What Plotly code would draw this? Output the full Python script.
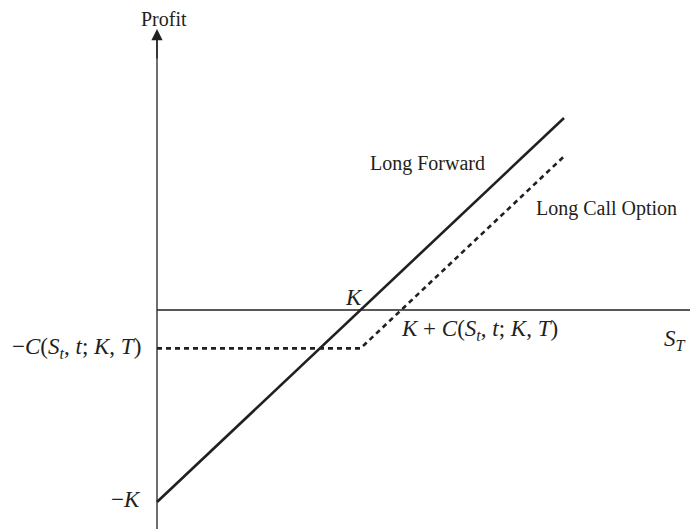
import plotly.graph_objects as go

# ---- data (profit diagram, K = 100, call premium C = 20) ----
forward_s = [0, 200]
forward_profit = [-100, 100]
call_s = [0, 100, 200]
call_profit = [-20, -20, 80]
strike = 100
premium = 20

W, H = 691, 529
# pixel <-> data mapping used only to place the axis window
X0_PX, X_SCALE = 157, 2.035
Y0_PX, Y_SCALE = 310, 1.92
x_range = [(0 - X0_PX) / X_SCALE, (W - X0_PX) / X_SCALE]
y_range = [(Y0_PX - H) / Y_SCALE, (Y0_PX - 0) / Y_SCALE]

def py(p):
    return (Y0_PX - p) / Y_SCALE

def px_(p):
    return (p - X0_PX) / X_SCALE

INK = "#231f20"
FAMILY = "Liberation Serif, Times New Roman, serif"
FONT = dict(family=FAMILY, size=20, color=INK)
MATH = dict(family=FAMILY, size=23, color=INK)

fig = go.Figure()
fig.add_trace(go.Scatter(x=forward_s, y=forward_profit, mode="lines",
                         line=dict(color=INK, width=2.6), hoverinfo="skip"))
fig.add_trace(go.Scatter(x=call_s, y=call_profit, mode="lines",
                         line=dict(color=INK, width=2.6, dash="5px,4px"), hoverinfo="skip"))

shapes = [
    # x axis
    dict(type="line", xref="x", yref="y", x0=0, x1=px_(690), y0=0, y1=0,
         line=dict(color=INK, width=1.3)),
    # y axis shaft
    dict(type="line", xref="x", yref="y", x0=0, x1=0, y0=py(H), y1=py(40),
         line=dict(color=INK, width=1.3)),
]

annotations = [
    # arrow head of y axis
    dict(x=0, y=py(29), ax=0, ay=py(60), xref="x", yref="y", axref="x", ayref="y",
         showarrow=True, arrowhead=2, arrowsize=1.6, arrowwidth=1.4, arrowcolor=INK, text=""),
    dict(x=px_(164), y=py(19), xref="x", yref="y", text="Profit", showarrow=False, font=FONT),
    dict(x=px_(487), y=py(163), xref="x", yref="y", text="Long Forward", showarrow=False,
         xanchor="right", font=FONT),
    dict(x=px_(534), y=py(208), xref="x", yref="y", text="Long Call Option", showarrow=False,
         xanchor="left", font=FONT),
    dict(x=px_(354), y=py(297), xref="x", yref="y", text="<i>K</i>", showarrow=False, font=MATH),
    dict(x=px_(399), y=py(330), xref="x", yref="y",
         text="<i>K</i> + <i>C</i>(<i>S<sub>t</sub></i>, <i>t</i>; <i>K</i>, <i>T</i>)",
         showarrow=False, xanchor="left", font=MATH),
    dict(x=px_(143), y=py(348), xref="x", yref="y",
         text="\u2212<i>C</i>(<i>S<sub>t</sub></i>, <i>t</i>; <i>K</i>, <i>T</i>)",
         showarrow=False, xanchor="right", font=MATH),
    dict(x=px_(143), y=py(499), xref="x", yref="y", text="\u2212<i>K</i>", showarrow=False,
         xanchor="right", font=MATH),
    dict(x=px_(675), y=py(340), xref="x", yref="y", text="<i>S<sub>T</sub></i>", showarrow=False,
         font=MATH),
]

fig.update_layout(
    width=W, height=H, margin=dict(l=0, r=0, t=0, b=0),
    paper_bgcolor="white", plot_bgcolor="white", showlegend=False,
    xaxis=dict(range=x_range, visible=False, fixedrange=True),
    yaxis=dict(range=y_range, visible=False, fixedrange=True),
    shapes=shapes, annotations=annotations,
)
fig.write_html("out.html", config={"displayModeBar": False},
               post_script="document.body.style.margin='0';document.body.style.overflow='hidden';")
